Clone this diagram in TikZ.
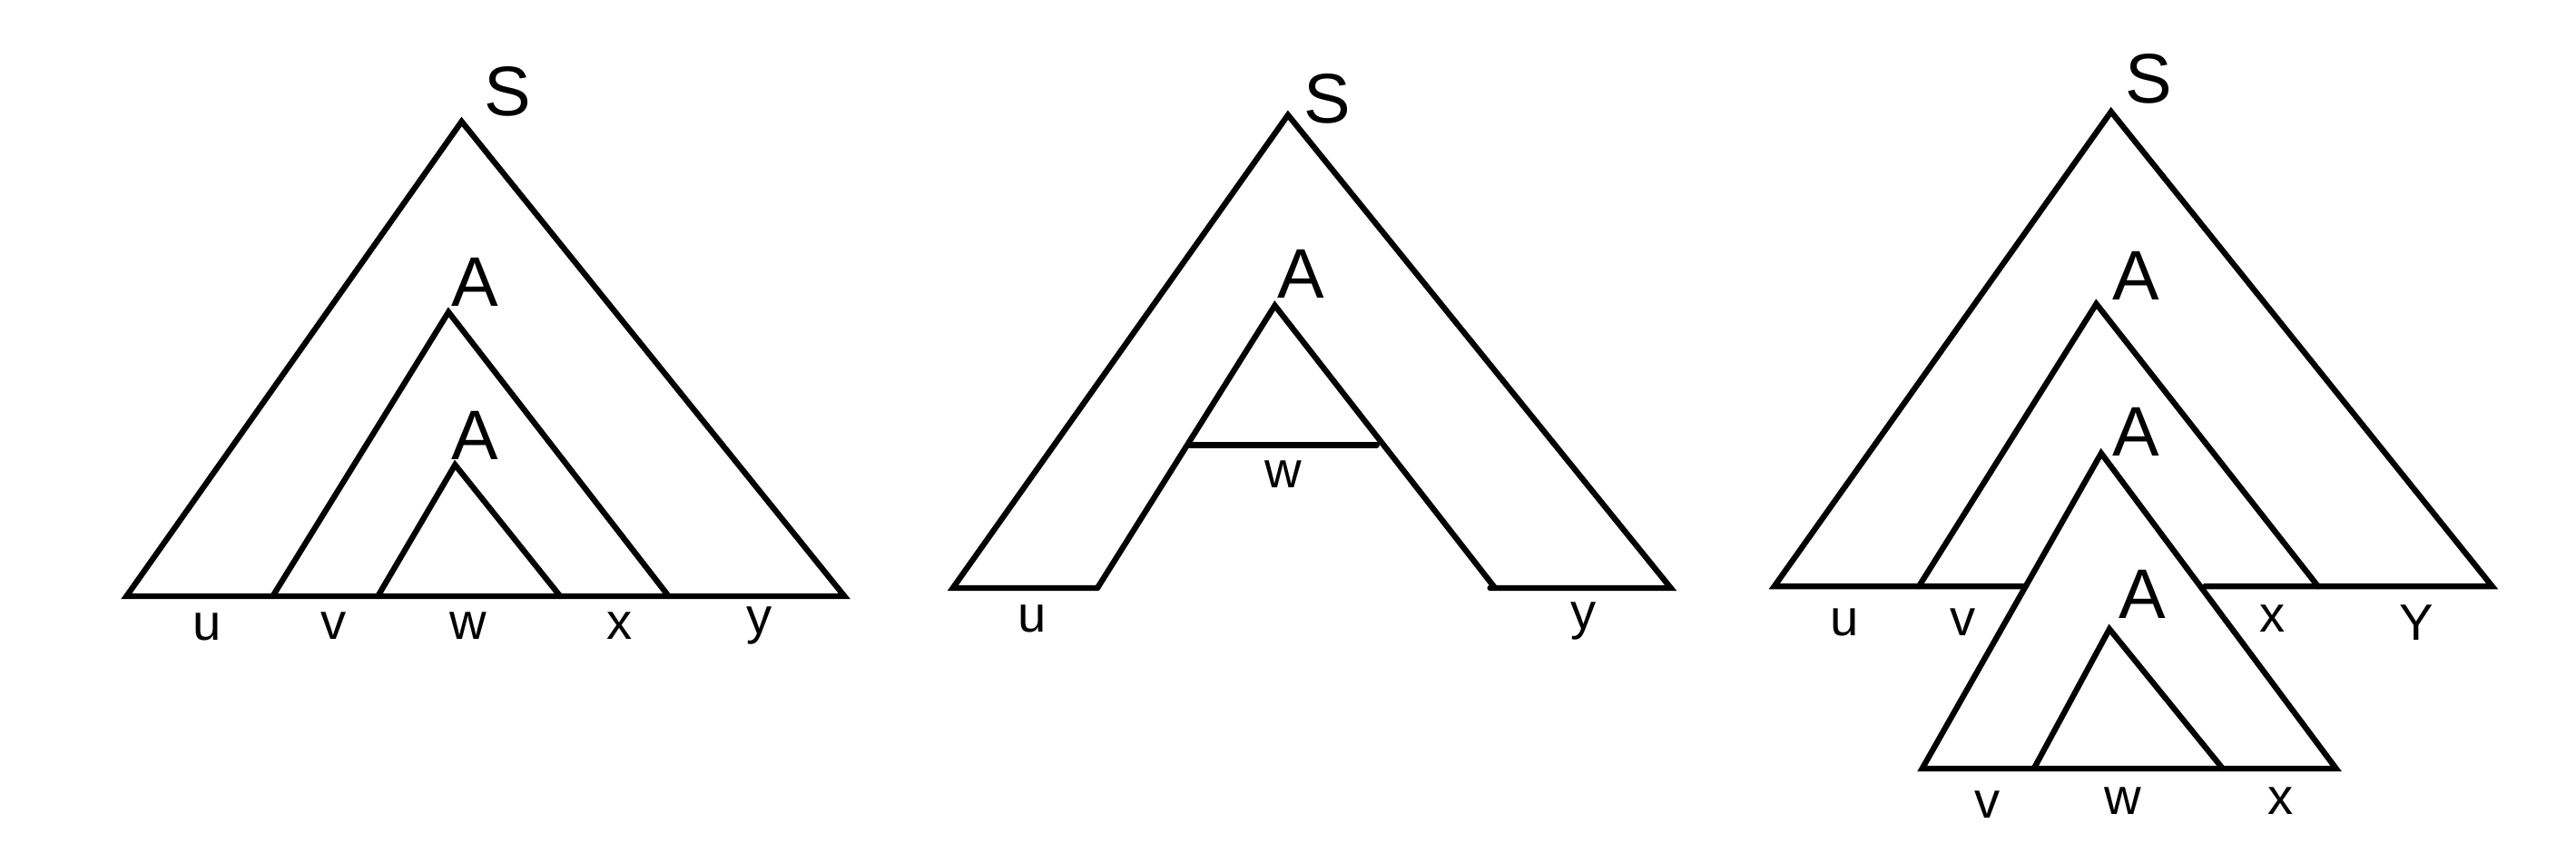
\documentclass[tikz,border=0pt]{standalone}
\usepackage{fontspec}
\setsansfont{Liberation Sans}
\usetikzlibrary{positioning}

\begin{document}
\begin{tikzpicture}[
    x=0.0181cm, y=-0.0181cm,
    edge/.style={line width=1.8pt, line join=miter, line cap=round},
    sym/.style={font=\sffamily\fontsize{22}{24}\selectfont, inner sep=0pt},
    word/.style={font=\sffamily\fontsize{16}{18}\selectfont, inner sep=0pt, anchor=base},
  ]
    \useasboundingbox (0,0) rectangle (1568,519);

    % first tree
    \coordinate (s1) at (281,74);
    \coordinate (l1) at (77,363);
    \coordinate (r1) at (514,363);
    \coordinate (a1) at (273,190);
    \coordinate (a1l) at (166,363);
    \coordinate (a1r) at (407,363);
    \coordinate (b1) at (277,283);
    \coordinate (b1l) at (230,363);
    \coordinate (b1r) at (341,363);
    \draw[edge] (l1) -- (s1) -- (r1) -- cycle;
    \draw[edge] (a1l) -- (a1) -- (a1r);
    \draw[edge] (b1l) -- (b1) -- (b1r);
    \node[sym] (S1) at (309,56) {S};
    \node[sym] (A1) at (289,172) {A};
    \node[sym] (B1) at (289,265) {A};
    \node[word] (u1) at (126,390) {u};
    \node[word] (v1) at (203,389) {v};
    \node[word] (w1) at (285,389) {w};
    \node[word] (x1) at (377,389) {x};
    \node[word] (y1) at (462,386) {y};

    % second tree
    \coordinate (s2) at (784,70);
    \coordinate (l2) at (580,358);
    \coordinate (r2) at (1017,358);
    \coordinate (a2) at (776,186);
    \coordinate (a2l) at (668,358);
    \coordinate (a2r) at (910,358);
    \coordinate (w2l) at (724,271);
    \coordinate (w2r) at (838,271);
    \draw[edge] (a2l) -- (l2) -- (s2) -- (r2) -- (907,358);
    \draw[edge] (a2l) -- (a2) -- (a2r);
    \draw[edge] (w2l) -- (w2r);
    \node[sym] (S2) at (808,60) {S};
    \node[sym] (A2) at (792,167) {A};
    \node[word] (w2) at (781,297) {w};
    \node[word] (u2) at (628,385) {u};
    \node[word] (y2) at (964,383) {y};

    % third tree
    \coordinate (s3) at (1285,68);
    \coordinate (l3) at (1080,357);
    \coordinate (r3) at (1517,357);
    \coordinate (a3) at (1276,185);
    \coordinate (a3l) at (1168,357);
    \coordinate (a3r) at (1411,357);
    \coordinate (b3) at (1279,276);
    \coordinate (b3l) at (1170,468);
    \coordinate (b3r) at (1422,468);
    \coordinate (c3) at (1284,383);
    \coordinate (c3l) at (1238,468);
    \coordinate (c3r) at (1353,468);
    \draw[edge] (1233,357) -- (l3) -- (s3) -- (r3) -- (1342,357);
    \draw[edge] (a3l) -- (a3) -- (a3r);
    \draw[edge] (b3l) -- (b3) -- (b3r) -- cycle;
    \draw[edge] (c3l) -- (c3) -- (c3r);
    \node[sym] (S3) at (1308,48) {S};
    \node[sym] (A3) at (1300,168) {A};
    \node[sym] (B3) at (1300,263) {A};
    \node[sym] (C3) at (1304,362) {A};
    \node[word] (u3) at (1123,387) {u};
    \node[word] (v3) at (1195,387) {v};
    \node[word] (x3) at (1383,385) {x};
    \node[word] (y3) at (1471,390) {Y};
    \node[word] (v3b) at (1210,498) {v};
    \node[word] (w3b) at (1292,496) {w};
    \node[word] (x3b) at (1388,496) {x};
  \end{tikzpicture}
\end{document}
